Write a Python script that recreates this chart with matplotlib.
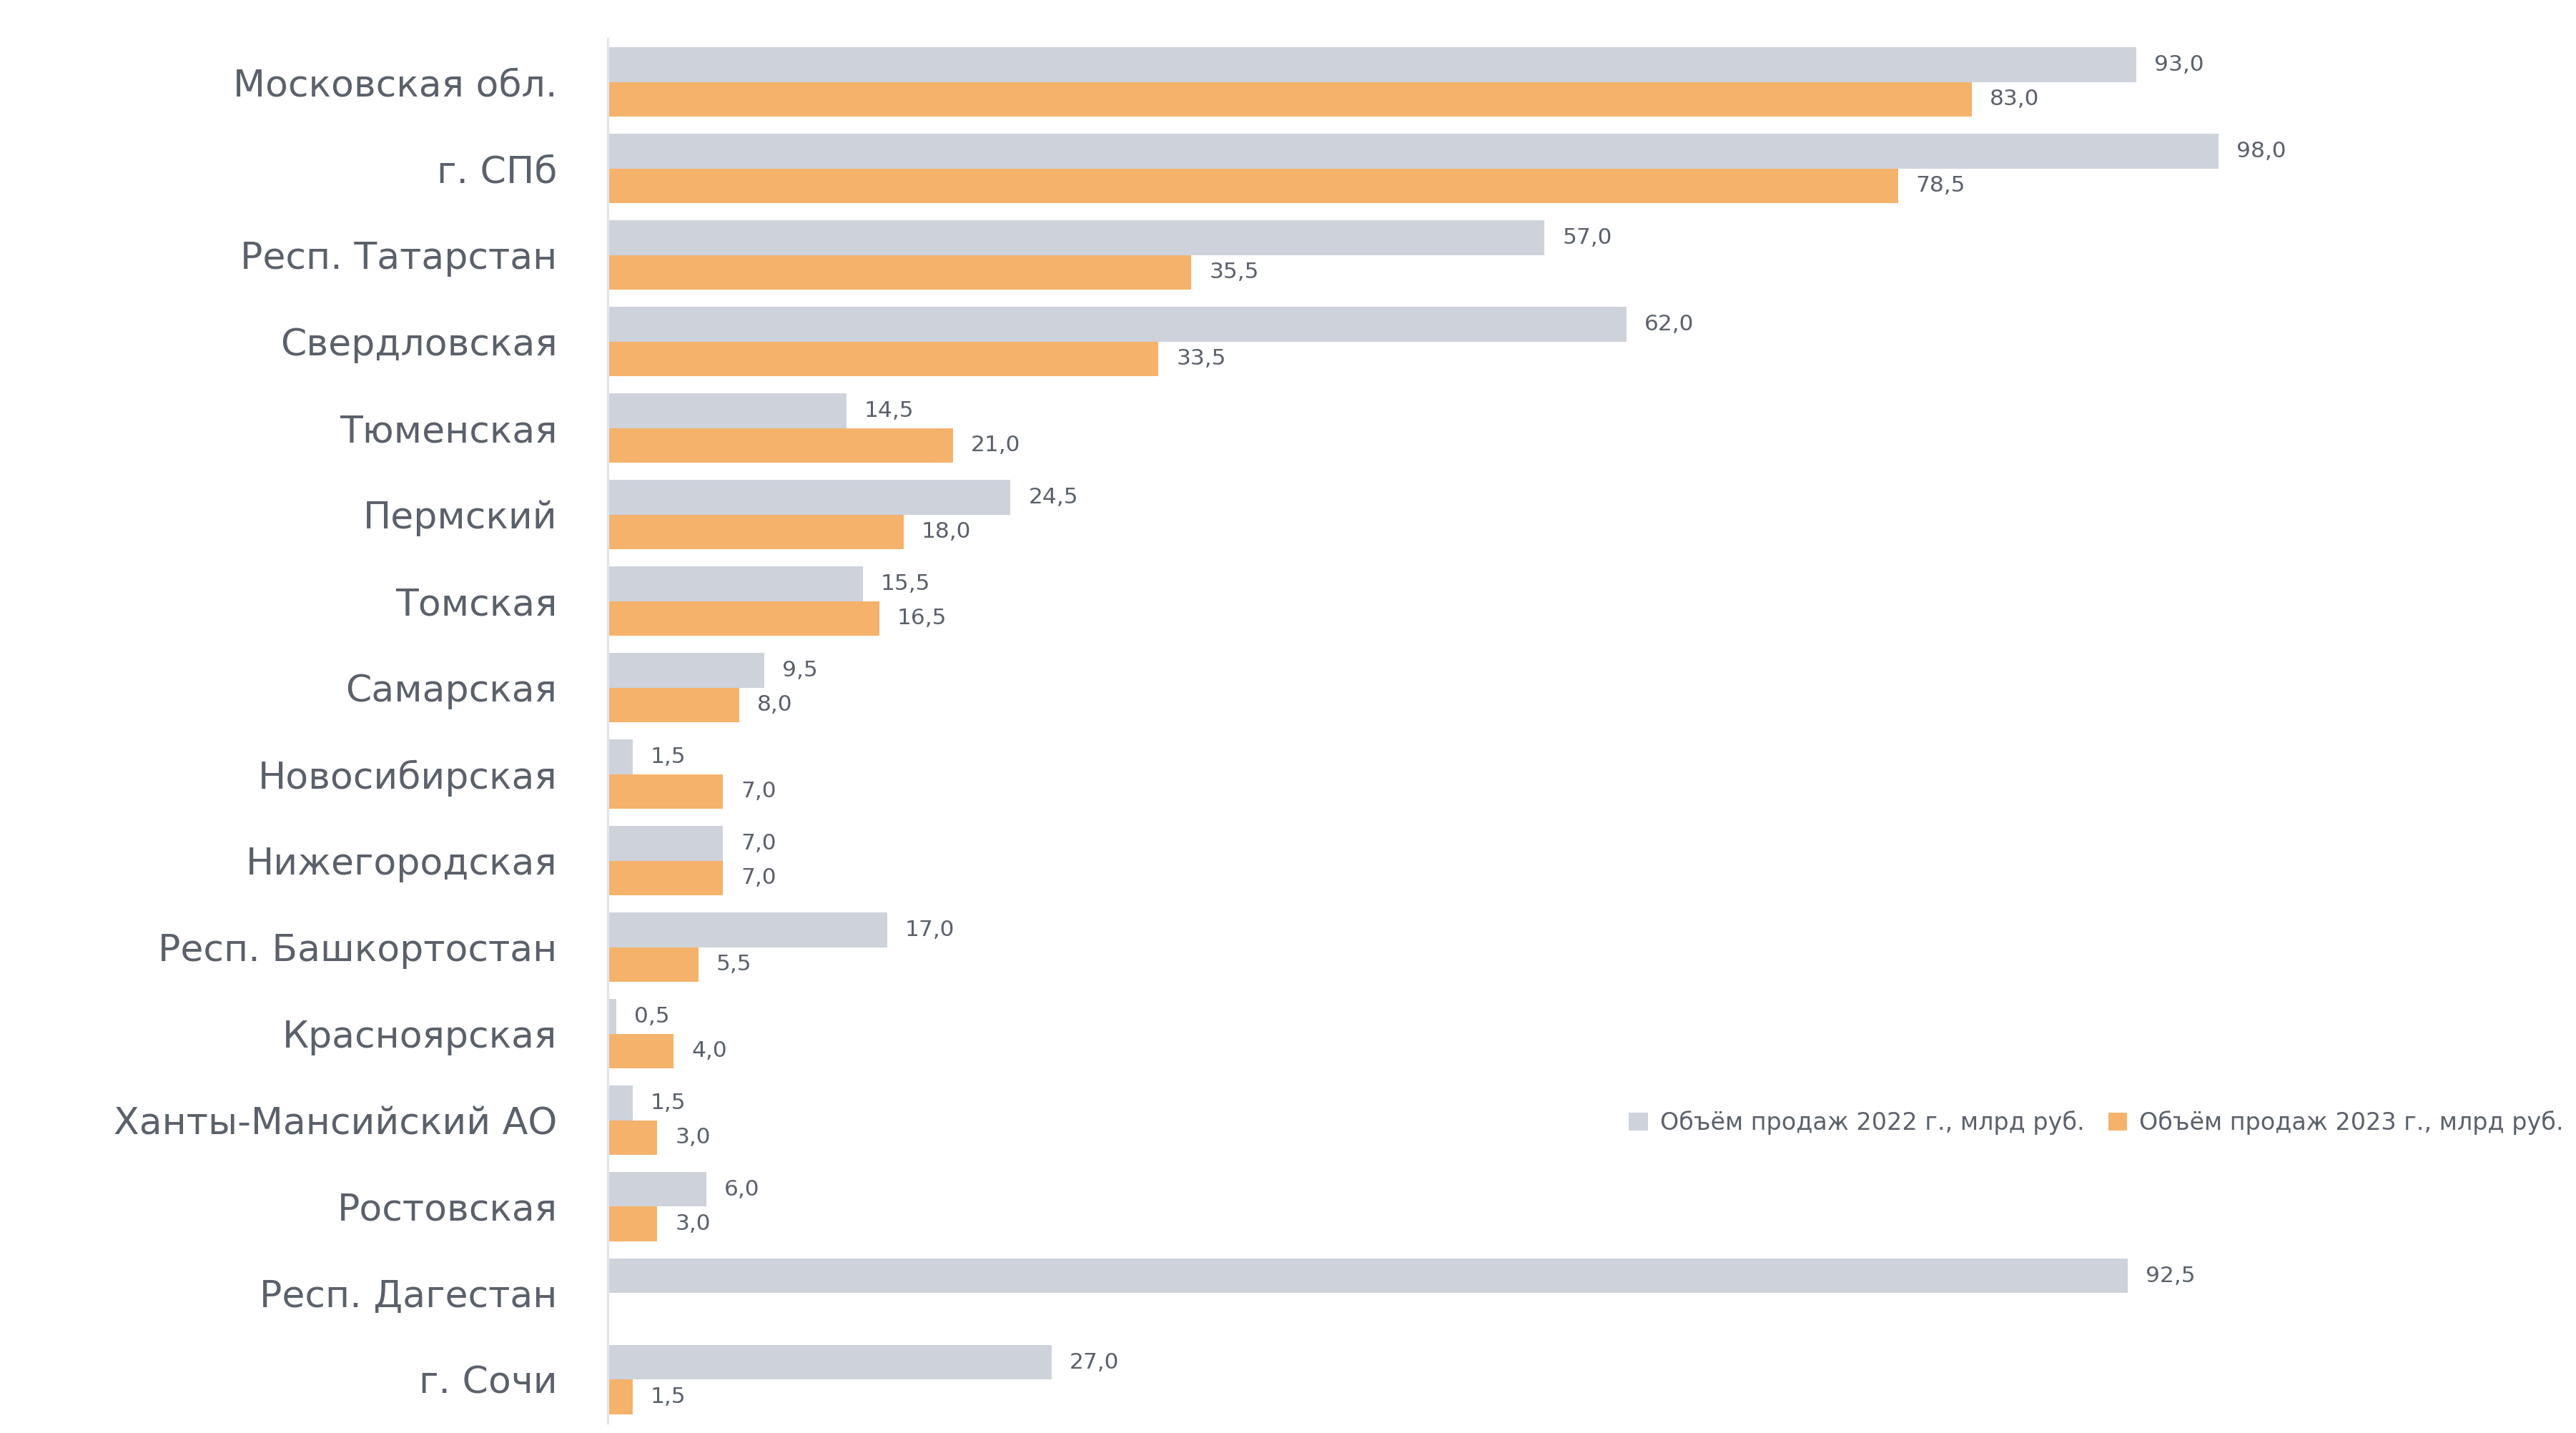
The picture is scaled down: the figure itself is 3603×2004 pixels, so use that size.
import matplotlib.pyplot as plt
import numpy as np

plt.rcParams['font.family'] = ['DejaVu Sans']

# регионы (сверху вниз)
regions = [
    'Московская обл.', 'г. СПб', 'Респ. Татарстан', 'Свердловская',
    'Тюменская', 'Пермский', 'Томская', 'Самарская',
    'Новосибирская', 'Нижегородская', 'Респ. Башкортостан', 'Красноярская',
    'Ханты-Мансийский АО', 'Ростовская', 'Респ. Дагестан', 'г. Сочи',
]
values_2022 = [93.0, 98.0, 57.0, 62.0, 14.5, 24.5, 15.5, 9.5,
               1.5, 7.0, 17.0, 0.5, 1.5, 6.0, 92.5, 27.0]
values_2023 = [83.0, 78.5, 35.5, 33.5, 21.0, 18.0, 16.5, 8.0,
               7.0, 7.0, 5.5, 4.0, 3.0, 3.0, 0.0, 1.5]
legend_labels = ['Объём продаж 2022 г., млрд руб.', 'Объём продаж 2023 г., млрд руб.']

gray = '#cdd2db'
orange = '#f4b26b'
text_color = '#5b616b'

fig = plt.figure(figsize=(12.01, 6.68), dpi=300)
ax = fig.add_axes([0.236, 0.007, 0.754, 0.966])

y = np.arange(len(regions))
h = 0.4
b1 = ax.barh(y - h / 2, values_2022, height=h, color=gray, label=legend_labels[0])
b2 = ax.barh(y + h / 2, values_2023, height=h, color=orange, label=legend_labels[1])

for bars, vals in ((b1, values_2022), (b2, values_2023)):
    for rect, v in zip(bars, vals):
        if v <= 0:
            continue
        ax.annotate(f'{v:.1f}'.replace('.', ','),
                    xy=(rect.get_width(), rect.get_y() + rect.get_height() / 2),
                    xytext=(6, 0), textcoords='offset points',
                    ha='left', va='center', fontsize=7.5, color=text_color)

ax.set_yticks(y)
ax.set_yticklabels(regions, fontsize=12.5, color=text_color)
ax.set_ylim(len(regions) - 0.5, -0.5)
ax.set_xlim(0, 118.2)
ax.set_xticks([])
ax.tick_params(axis='y', length=0, pad=17)
for s in ('top', 'right', 'bottom'):
    ax.spines[s].set_visible(False)
ax.spines['left'].set_color('#e3e5ea')

fig.legend(handles=[b1, b2], loc='center left', bbox_to_anchor=(0.624, 0.2166),
           ncol=2, frameon=False, fontsize=8, labelcolor=text_color,
           handlelength=0.8, handleheight=0.8, columnspacing=1.0, handletextpad=0.5)

fig.savefig('out.png', dpi=300, facecolor='white')
